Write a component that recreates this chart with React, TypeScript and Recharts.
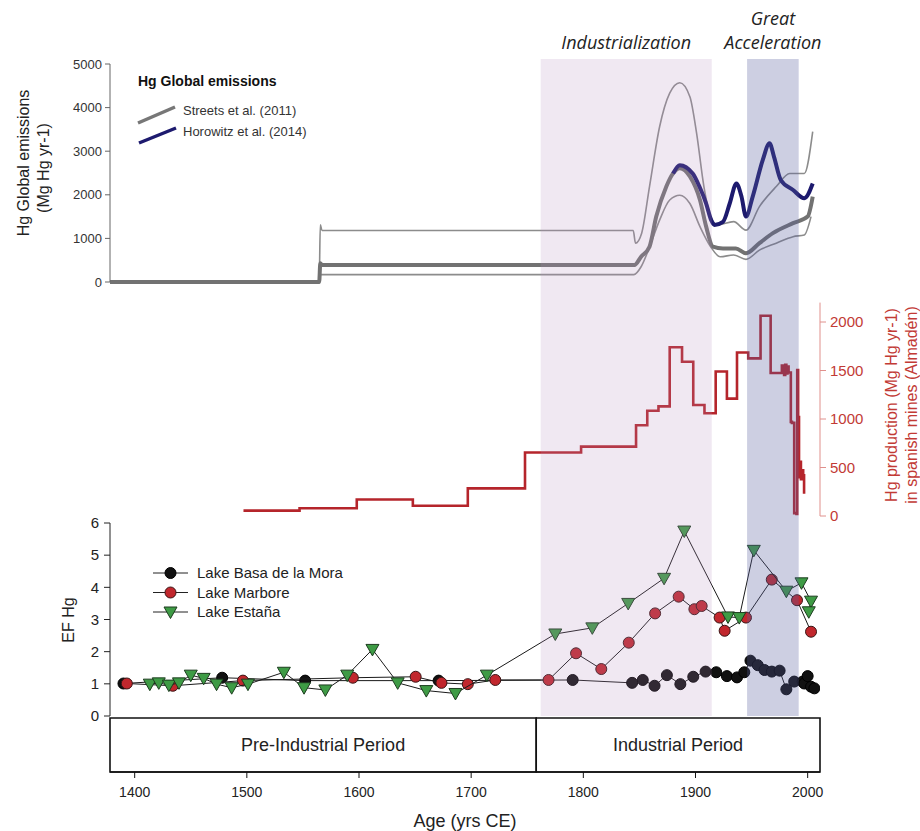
import React from 'react'
import { ComposedChart, ScatterChart, Scatter, Line, XAxis, YAxis, ReferenceArea } from 'recharts'

const W = 920
const H = 831
const FONT = '"Liberation Sans", Arial, Helvetica, sans-serif'
const NARROW = '"Liberation Sans Narrow", "Liberation Sans", Arial, sans-serif'

const YEAR_MIN = 1378
const YEAR_MAX = 2011
const xTicks = [1400, 1500, 1600, 1700, 1800, 1900, 2000]
const topTicks = [0, 1000, 2000, 3000, 4000, 5000]
const almadenTicks = [0, 500, 1000, 1500, 2000]
const efTicks = [0, 1, 2, 3, 4, 5, 6]

// Streets et al. (2011), central estimate and range
const centralYears = [1378, 1564.5, 1565.5, 1567, 1845.5, 1851.5, 1859, 1865, 1874, 1880, 1886, 1895, 1904, 1909.5, 1915.5, 1924.5, 1936, 1945, 1957, 1969, 1987, 2000, 2004.5]
const centralValues = [0, 0, 430, 390, 390, 580, 810, 1500, 2190, 2490, 2610, 2420, 1880, 1270, 810, 770, 770, 660, 890, 1120, 1350, 1500, 1960]
const upperYears = [1378, 1564.5, 1565.5, 1567, 1844.5, 1846.5, 1852, 1859, 1868, 1877, 1886, 1895, 1901, 1907.5, 1913.5, 1919.5, 1934, 1945, 1957, 1972, 1984, 1997, 2004.5]
const upperValues = [0, 0, 1310, 1180, 1180, 890, 1120, 2190, 3560, 4330, 4570, 4250, 3410, 2190, 1500, 1310, 1385, 1190, 1730, 2190, 2490, 2490, 3450]
const lowerYears = [1378, 1564.5, 1565.5, 1845, 1851.5, 1859, 1868, 1877, 1886, 1895, 1904, 1913.5, 1922, 1934, 1945, 1957, 1972, 1987, 1997, 2003]
const lowerValues = [0, 0, 170, 170, 350, 800, 1420, 1880, 1990, 1800, 1270, 810, 580, 620, 520, 730, 890, 1040, 1080, 1500]

// Horowitz et al. (2014)
const horowitzYears = [1880, 1886, 1897.5, 1903.5, 1909.5, 1914, 1917, 1924.5, 1930.5, 1936.5, 1941, 1945, 1951, 1960, 1966, 1970, 1976, 1987, 1997, 2004.5]
const horowitzValues = [2490, 2680, 2490, 2190, 1800, 1420, 1310, 1380, 1800, 2260, 1960, 1500, 1960, 2800, 3180, 2870, 2340, 2110, 1920, 2260]

// Hg production in Almaden (Mg Hg yr-1)
const almadenYears = [1497, 1547, 1598, 1648, 1697, 1748, 1798, 1847, 1857, 1867, 1877, 1888, 1898, 1908, 1918, 1928, 1937, 1947, 1958, 1967, 1977, 1979, 1980, 1981, 1982, 1983, 1985, 1986, 1988, 1990, 1990.7, 1991.5, 1992.3, 1993, 1994, 1995, 1996, 1996.8]
const almadenValues = [55, 80, 170, 105, 285, 655, 715, 935, 1085, 1130, 1740, 1590, 1145, 1060, 1490, 1210, 1685, 1625, 2065, 1475, 1550, 1455, 1560, 1470, 1540, 1480, 970, 960, 30, 20, 1505, 1020, 400, 560, 380, 470, 420, 230]

// EF Hg in lake records
const basaYears = [1390, 1478, 1552, 1671, 1790.5, 1843.5, 1853, 1863.5, 1874.5, 1886.5, 1898, 1909, 1918.5, 1928, 1937, 1943.5, 1949, 1955.5, 1961.5, 1968, 1975, 1981, 1988, 1995.5, 1997, 2000, 2003, 2006]
const basaValues = [1.01, 1.19, 1.1, 1.1, 1.12, 1.03, 1.12, 0.94, 1.27, 0.99, 1.22, 1.38, 1.36, 1.24, 1.2, 1.36, 1.72, 1.58, 1.43, 1.38, 1.41, 0.83, 1.07, 1.07, 1.01, 1.24, 0.91, 0.86]
const marboreYears = [1393, 1434, 1496.5, 1594.5, 1650.5, 1673.5, 1697, 1721.5, 1769, 1793.5, 1816, 1840.5, 1864, 1885, 1899, 1905.5, 1921.5, 1926, 1945, 1968, 1990.5, 2003]
const marboreValues = [1.01, 0.94, 1.1, 1.19, 1.22, 1.03, 0.99, 1.12, 1.12, 1.95, 1.46, 2.28, 3.19, 3.71, 3.32, 3.42, 3.06, 2.65, 3.06, 4.24, 3.6, 2.62]
const estanaYears = [1413.5, 1421.5, 1430.5, 1439.5, 1450, 1461.5, 1473, 1486.5, 1501, 1533, 1551, 1570, 1589.5, 1612, 1634.5, 1660, 1686, 1714, 1775, 1808, 1840, 1872, 1890, 1929, 1939, 1952, 1981, 1994.5, 2003, 2001]
const estanaValues = [0.99, 1.03, 0.96, 1.03, 1.27, 1.17, 0.99, 0.88, 0.99, 1.36, 0.88, 0.81, 1.27, 2.07, 1.03, 0.79, 0.7, 1.27, 2.55, 2.74, 3.5, 4.28, 5.75, 3.08, 3.06, 5.15, 3.88, 4.14, 3.57, 3.24]

// periods and shaded phases
const periods = [
  { name: 'Pre-Industrial Period', from: 1378, to: 1758 },
  { name: 'Industrial Period', from: 1758, to: 2011 },
]
const phases = [
  { name: ['Industrialization'], from: 1762, to: 1914.5, color: '#b58cc0', opacity: 0.2 },
  { name: ['Great', 'Acceleration'], from: 1946, to: 1992, color: '#5a5fa0', opacity: 0.3 },
]

const pts = (xs: number[], ys: number[]) => xs.map((x, i) => ({ x, v: ys[i] }))
const sc = (xs: number[], ys: number[]) => xs.map((x, i) => ({ x, y: ys[i] }))
// two corner points so that the frame charts have a domain to work in
const frame = [{ x: YEAR_MIN, y: 0 }, { x: YEAR_MAX, y: 1 }]

const abs: React.CSSProperties = { position: 'absolute', left: 0, top: 0 }

const circleShape = (fill: string, stroke: string) => (p: any) => (
  <circle cx={p.cx} cy={p.cy} r={5.5} fill={fill} stroke={stroke} strokeWidth={1} />
)
const triShape = (fill: string, stroke: string) => (p: any) => (
  <polygon
    points={`${p.cx - 6.5},${p.cy - 5} ${p.cx + 6.5},${p.cy - 5} ${p.cx},${p.cy + 6.5}`}
    fill={fill}
    stroke={stroke}
    strokeWidth={1}
  />
)

function BandTitle(props: any) {
  const { viewBox, lines } = props
  if (!viewBox) return null
  const cx = viewBox.x + viewBox.width / 2
  const n = lines.length
  return (
    <text textAnchor="middle" fontFamily='"Open Sans", sans-serif' fontStyle="italic" fontSize={18} fill="#222">
      {lines.map((l: string, i: number) => (
        <tspan key={i} x={cx} y={viewBox.y - 10 - (n - 1 - i) * 24}>{l}</tspan>
      ))}
    </text>
  )
}

function TopLegend() {
  return (
    <svg width={220} height={85} style={{ position: 'absolute', left: 130, top: 66 }}>
      <text x={8} y={20} fontFamily={FONT} fontWeight="bold" fontSize={14} fill="#111">Hg Global emissions</text>
      <line x1={8} y1={57} x2={45} y2={41} stroke="#777" strokeWidth={3.5} />
      <text x={53} y={49} fontFamily={FONT} fontSize={13} fill="#333">Streets et al. (2011)</text>
      <line x1={9} y1={77} x2={46} y2={62} stroke="#1d1a6e" strokeWidth={3.5} />
      <text x={53} y={70} fontFamily={FONT} fontSize={13} fill="#333">Horowitz et al. (2014)</text>
    </svg>
  )
}

function LakeLegend() {
  const rows = [
    { name: 'Lake Basa de la Mora', shape: circleShape('#111', '#000') },
    { name: 'Lake Marbore', shape: circleShape('#c1272d', '#3a1515') },
    { name: 'Lake Estaña', shape: triShape('#3e9b45', '#1d3d1f') },
  ]
  return (
    <svg width={220} height={66} style={{ position: 'absolute', left: 145, top: 560 }}>
      {rows.map((r, i) => {
        const y = 13 + i * 19.5
        return (
          <g key={r.name}>
            <line x1={8} y1={y} x2={43} y2={y} stroke="#222" strokeWidth={1} />
            {r.shape({ cx: 25.5, cy: y })}
            <text x={52} y={y + 5} fontFamily={FONT} fontSize={15} fill="#222">{r.name}</text>
          </g>
        )
      })}
    </svg>
  )
}

export default function App() {
  const xAxisHidden = (
    <XAxis type="number" dataKey="x" domain={[YEAR_MIN, YEAR_MAX]} allowDataOverflow hide />
  )
  return (
    <div style={{ position: 'absolute', left: 0, top: 0, width: W, height: H, background: '#fff', overflow: 'hidden' }}>
      {/* top: global emissions */}
      <div style={abs}>
        <ComposedChart width={W} height={H} margin={{ top: 64, right: 100, bottom: H - 282, left: 50 }}>
          {xAxisHidden}
          <YAxis
            type="number"
            domain={[0, 5000]}
            ticks={topTicks}
            interval={0}
            width={60}
            tickSize={5}
            tickMargin={3}
            axisLine={{ stroke: '#666' }}
            tickLine={{ stroke: '#666' }}
            tick={{ fontSize: 13, fill: '#333', fontFamily: FONT }}
          />
          <Line data={pts(upperYears, upperValues)} dataKey="v" type="monotone" stroke="#8c8c8c" strokeWidth={1.6} dot={false} isAnimationActive={false} />
          <Line data={pts(lowerYears, lowerValues)} dataKey="v" type="monotone" stroke="#8c8c8c" strokeWidth={1.6} dot={false} isAnimationActive={false} />
          <Line data={pts(centralYears, centralValues)} dataKey="v" type="monotone" stroke="#727272" strokeWidth={4} dot={false} isAnimationActive={false} />
          <Line data={pts(horowitzYears, horowitzValues)} dataKey="v" type="monotone" stroke="#1d1a6e" strokeWidth={4} dot={false} isAnimationActive={false} />
        </ComposedChart>
      </div>
      <TopLegend />

      {/* middle: Almaden production */}
      <div style={abs}>
        <ComposedChart width={W} height={H} margin={{ top: 302.6, right: 40, bottom: H - 516, left: 110 }}>
          {xAxisHidden}
          <YAxis
            orientation="right"
            type="number"
            domain={[0, 2200]}
            ticks={almadenTicks}
            interval={0}
            width={60}
            tickSize={6}
            tickMargin={4}
            axisLine={{ stroke: '#e0908c' }}
            tickLine={{ stroke: '#e0908c' }}
            tick={{ fontSize: 15, fill: '#c23a35', fontFamily: FONT, textAnchor: 'start' }}
          />
          <Line data={pts(almadenYears, almadenValues)} dataKey="v" type="stepAfter" stroke="#b5252b" strokeWidth={2.6} dot={false} isAnimationActive={false} />
        </ComposedChart>
      </div>

      {/* bottom: EF Hg */}
      <div style={abs}>
        <ScatterChart width={W} height={H} margin={{ top: 523, right: 100, bottom: H - 716, left: 50 }}>
          <XAxis type="number" dataKey="x" domain={[YEAR_MIN, YEAR_MAX]} allowDataOverflow hide />
          <YAxis
            type="number"
            dataKey="y"
            domain={[0, 6]}
            ticks={efTicks}
            interval={0}
            width={60}
            tickSize={6}
            tickMargin={5}
            axisLine={{ stroke: '#222' }}
            tickLine={{ stroke: '#222' }}
            tick={{ fontSize: 15, fill: '#222', fontFamily: FONT }}
          />
          <Scatter data={sc(basaYears, basaValues)} dataKey="y" line={{ stroke: '#1a1a1a', strokeWidth: 1 }} lineType="joint" shape={circleShape('#111', '#000')} isAnimationActive={false} />
          <Scatter data={sc(marboreYears, marboreValues)} dataKey="y" line={{ stroke: '#1a1a1a', strokeWidth: 1 }} lineType="joint" shape={circleShape('#c1272d', '#3a1515')} isAnimationActive={false} />
          <Scatter data={sc(estanaYears, estanaValues)} dataKey="y" line={{ stroke: '#1a1a1a', strokeWidth: 1 }} lineType="joint" shape={triShape('#3e9b45', '#1d3d1f')} isAnimationActive={false} />
        </ScatterChart>
      </div>
      <LakeLegend />

      {/* period boxes and the time axis */}
      <div style={abs}>
        <ComposedChart data={frame} width={W} height={H} margin={{ top: 718, right: 100, bottom: 6, left: 110 }}>
          <XAxis
            type="number"
            dataKey="x"
            domain={[YEAR_MIN, YEAR_MAX]}
            allowDataOverflow
            ticks={xTicks}
            interval={0}
            height={53}
            tickSize={6}
            tickMargin={9}
            axisLine={{ stroke: '#111', strokeWidth: 1.5 }}
            tickLine={{ stroke: '#111' }}
            tick={{ fontSize: 14, fill: '#222', fontFamily: FONT }}
            label={{ value: 'Age (yrs CE)', position: 'insideBottom', offset: -2, fontSize: 18, fill: '#222', fontFamily: FONT }}
          />
          <YAxis type="number" dataKey="y" domain={[0, 1]} allowDataOverflow hide />
          <Line dataKey="y" stroke="none" dot={false} isAnimationActive={false} />
          {periods.map((p) => (
            <ReferenceArea
              key={p.name}
              x1={p.from}
              x2={p.to}
              y1={0}
              y2={1}
              ifOverflow="visible"
              fill="#fff"
              fillOpacity={1}
              stroke="#111"
              strokeWidth={1.6}
              label={{ value: p.name, position: 'center', fontSize: 18, fill: '#222', fontFamily: NARROW }}
            />
          ))}
        </ComposedChart>
      </div>

      {/* shaded phases over all panels */}
      <div style={{ ...abs, pointerEvents: 'none' }}>
        <ComposedChart data={frame} width={W} height={H} margin={{ top: 59, right: 100, bottom: H - 716, left: 110 }}>
          {xAxisHidden}
          <YAxis type="number" dataKey="y" domain={[0, 1]} allowDataOverflow hide />
          <Line dataKey="y" stroke="none" dot={false} isAnimationActive={false} />
          {phases.map((p) => (
            <ReferenceArea
              key={p.name.join(' ')}
              x1={p.from}
              x2={p.to}
              y1={0}
              y2={1}
              ifOverflow="visible"
              fill={p.color}
              fillOpacity={p.opacity}
              strokeOpacity={0}
              label={<BandTitle lines={p.name} />}
            />
          ))}
        </ComposedChart>
      </div>

      {/* axis titles */}
      <svg width={W} height={H} style={{ ...abs, pointerEvents: 'none' }}>
        <text transform="translate(23,163) rotate(-90)" textAnchor="middle" dominantBaseline="central" fontFamily={FONT} fontSize={16} fill="#222">Hg Global emissions</text>
        <text transform="translate(43,168) rotate(-90)" textAnchor="middle" dominantBaseline="central" fontFamily={FONT} fontSize={16} fill="#222">(Mg Hg yr-1)</text>
        <text transform="translate(891,405) rotate(-90)" textAnchor="middle" dominantBaseline="central" fontFamily={FONT} fontSize={16} fill="#c23a35">Hg production (Mg Hg yr-1)</text>
        <text transform="translate(911,405) rotate(-90)" textAnchor="middle" dominantBaseline="central" fontFamily={FONT} fontSize={16} fill="#c23a35">in spanish mines (Almadén)</text>
        <text transform="translate(68,620) rotate(-90)" textAnchor="middle" dominantBaseline="central" fontFamily={FONT} fontSize={16} fill="#222">EF Hg</text>
      </svg>
    </div>
  )
}
